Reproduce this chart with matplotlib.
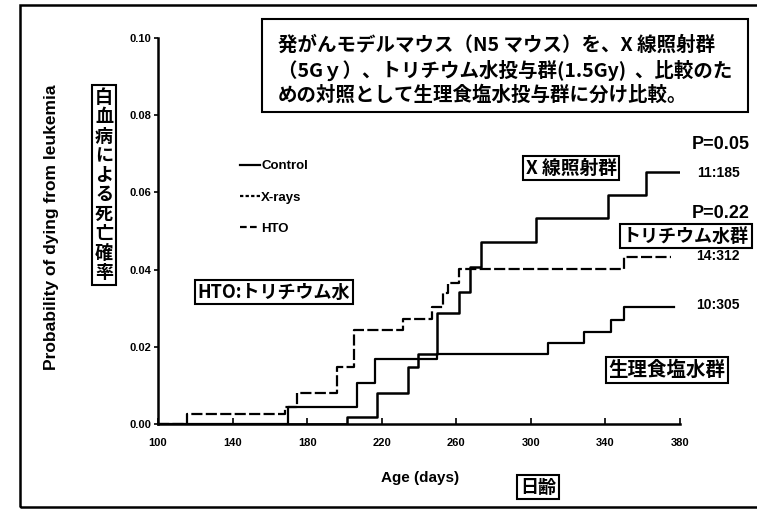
import matplotlib
matplotlib.use('Agg')
import matplotlib.pyplot as plt
from matplotlib.lines import Line2D
from matplotlib.patches import Rectangle

# Values (age in days, cumulative probability)
control_days = [100, 169.8, 206.9, 216.6, 249.8, 309.0, 328.3, 343.0, 349.7, 376.7]
control_prob = [0, 0.0044, 0.0106, 0.0168, 0.0181, 0.0210, 0.0238, 0.0269, 0.0303, 0.0303]

xray_days = [100, 201.5, 217.7, 234.3, 239.7, 249.8, 261.2, 267.6, 273.0, 302.5, 341.6, 361.5, 382.0]
xray_prob = [0, 0.0018, 0.0080, 0.0148, 0.0181, 0.0288, 0.0342, 0.0407, 0.0472, 0.0534, 0.0593, 0.0653, 0.0653]

hto_days = [100, 115.6, 168.2, 174.6, 196.0, 205.0, 231.6, 247.1, 253.1, 255.8, 261.2, 349.7, 375.0]
hto_prob = [0, 0.0026, 0.0044, 0.0080, 0.0148, 0.0244, 0.0272, 0.0303, 0.0339, 0.0365, 0.0402, 0.0433, 0.0433]

x_ticks = [100, 140, 180, 220, 260, 300, 340, 380]
y_ticks = [0.00, 0.02, 0.04, 0.06, 0.08, 0.10]

legend_labels = ['Control', 'X-rays', 'HTO']

title_lines = [
    '発がんモデルマウス（N5 マウス）を、X 線照射群',
    '（5Gｙ）、トリチウム水投与群(1.5Gy)  、比較のた',
    'めの対照として生理食塩水投与群に分け比較。',
]

W, H = 757, 517
JP = ['Noto Sans CJK JP', 'DejaVu Sans']
EN = ['Liberation Sans', 'DejaVu Sans']


def fx(px):
    return px / W


def fy(py):
    return 1 - py / H


fig = plt.figure(figsize=(W / 100, H / 100), dpi=100)
ax = fig.add_axes([fx(158), fy(424), (680 - 158) / W, (424 - 38) / H])

ax.step(control_days, control_prob, where='post', color='black', lw=1.6)
ax.step(xray_days, xray_prob, where='post', color='black', lw=1.8)
ax.step(hto_days, hto_prob, where='post', color='black', lw=1.6, linestyle=(0, (5, 1.5)))

ax.set_xlim(100, 380)
ax.set_ylim(0, 0.10)
ax.set_xticks(x_ticks)
ax.set_xticklabels([str(t) for t in x_ticks])
ax.set_yticks(y_ticks)
ax.set_yticklabels([f'{t:.2f}' for t in y_ticks])
for lab in ax.get_xticklabels() + ax.get_yticklabels():
    lab.set_fontfamily(EN)
    lab.set_fontweight('bold')
    lab.set_fontsize(8)
ax.tick_params(axis='x', direction='in', length=4, width=1.2, pad=10)
ax.tick_params(axis='y', direction='out', length=3, width=1.2, pad=2)
for s in ['top', 'right']:
    ax.spines[s].set_visible(False)
for s in ['left', 'bottom']:
    ax.spines[s].set_linewidth(1.8)

# legend (hand drawn style in the original)
handles = [Line2D([], [], color='black', lw=1.6),
           Line2D([], [], color='black', lw=1.6, linestyle=(0, (1.5, 1))),
           Line2D([], [], color='black', lw=1.6, linestyle=(0, (3, 1.5)))]
leg = ax.legend(handles, legend_labels, loc='upper left', frameon=False,
                bbox_to_anchor=(fx(240), fy(160)), bbox_transform=fig.transFigure,
                borderpad=0, borderaxespad=0, handlelength=1.5, handletextpad=0.1,
                labelspacing=1.45, prop={'family': EN, 'weight': 'bold', 'size': 9.5})

# axis labels
fig.text(fx(52), fy(227), 'Probability of dying from leukemia', rotation=90,
         ha='center', va='center', family=EN, weight='bold', fontsize=12.5)
fig.text(fx(420), fy(478), 'Age (days)', ha='center', va='center',
         family=EN, weight='bold', fontsize=11)

box = dict(boxstyle='square,pad=0.15', fc='white', ec='black', lw=1.5)

fig.text(fx(104), fy(185), '\n'.join('白血病による死亡確率'), ha='center', va='center',
         family=JP, weight='bold', fontsize=13, linespacing=1.03, bbox=box)
fig.text(fx(538), fy(487), '日齢', ha='center', va='center',
         family=JP, weight='bold', fontsize=13, bbox=box)

# title box
fig.patches.append(Rectangle((fx(262), fy(112)), fx(748) - fx(262), fy(19) - fy(112),
                             transform=fig.transFigure, fill=False, ec='black', lw=1.5))
for i, line in enumerate(title_lines):
    fig.text(fx(278), fy(45 + 25 * i), line, ha='left', va='center',
             family=JP, weight='bold', fontsize=14)

# annotations inside the plot
fig.text(fx(274), fy(292), 'HTO:トリチウム水', ha='center', va='center',
         family=JP, weight='bold', fontsize=13, bbox=box)
fig.text(fx(571), fy(168), 'X 線照射群', ha='center', va='center',
         family=JP, weight='bold', fontsize=13.5, bbox=box)
fig.text(fx(686), fy(236), 'トリチウム水群', ha='center', va='center',
         family=JP, weight='bold', fontsize=13, bbox=box)
fig.text(fx(667), fy(370), '生理食塩水群', ha='center', va='center',
         family=JP, weight='bold', fontsize=14, bbox=box)

fig.text(fx(750), fy(145), 'P=0.05', ha='right', va='center', family=EN, weight='bold', fontsize=13)
fig.text(fx(750), fy(213), 'P=0.22', ha='right', va='center', family=EN, weight='bold', fontsize=13)
fig.text(fx(718), fy(173), '11:185', ha='center', va='center', family=EN, weight='bold', fontsize=10)
fig.text(fx(718), fy(256), '14:312', ha='center', va='center', family=EN, weight='bold', fontsize=10)
fig.text(fx(718), fy(305), '10:305', ha='center', va='center', family=EN, weight='bold', fontsize=10)

# scan frame around the whole slide
fig.patches.append(Rectangle((fx(20), fy(507)), fx(770) - fx(20), fy(5) - fy(507),
                             transform=fig.transFigure, fill=False, ec='black', lw=1.8))

fig.savefig('out.png', dpi=100)
